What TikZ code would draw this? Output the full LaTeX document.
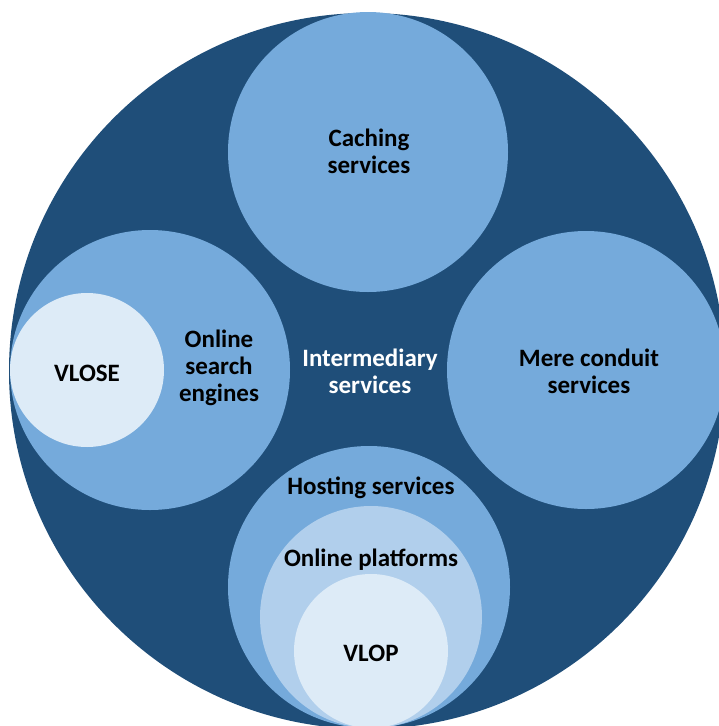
\documentclass[tikz,border=0pt]{standalone}
\usepackage{fontspec}
\setmainfont{Carlito}
\definecolor{navy}{HTML}{1F4E79}
\definecolor{midblue}{HTML}{75AADB}
\definecolor{lightblue}{HTML}{B1CFEC}
\definecolor{paleblue}{HTML}{DDEBF7}
\tikzset{
  label text/.style={font=\bfseries\fontsize{25}{27}\selectfont, align=center, text=black, inner sep=0pt},
  label white/.style={label text, text=white}
}
\begin{document}
\begin{tikzpicture}[x=1pt, y=-1pt]
  \useasboundingbox (0,0) rectangle (718,726);
  % outer disc: all intermediary services
  \fill[navy] (367,371) circle[radius=358];
  % four service categories
  \fill[midblue] (368,152) circle[radius=140];
  \fill[midblue] (586,370) circle[radius=139];
  \fill[midblue] (150,370) circle[radius=140];
  \fill[midblue] (369,587) circle[radius=141];
  % nested subsets
  \fill[paleblue] (87,370) circle[radius=77];
  \fill[lightblue] (371,617) circle[radius=111];
  \fill[paleblue] (371,651) circle[radius=77];
  % labels
  \node[label text] (caching) at (369,151) {Caching\\services};
  \node[label text] (search) at (219,368) {Online\\search\\engines};
  \node[label text] (vlose) at (87,373) {VLOSE};
  \node[label white] (inter) at (370,371) {Intermediary\\services};
  \node[label text] (conduit) at (589,371) {Mere conduit\\services};
  \node[label text] (hosting) at (371,488) {Hosting services};
  \node[label text] (platforms) at (371,560) {Online platforms};
  \node[label text] (vlop) at (371,653) {VLOP};
\end{tikzpicture}
\end{document}
